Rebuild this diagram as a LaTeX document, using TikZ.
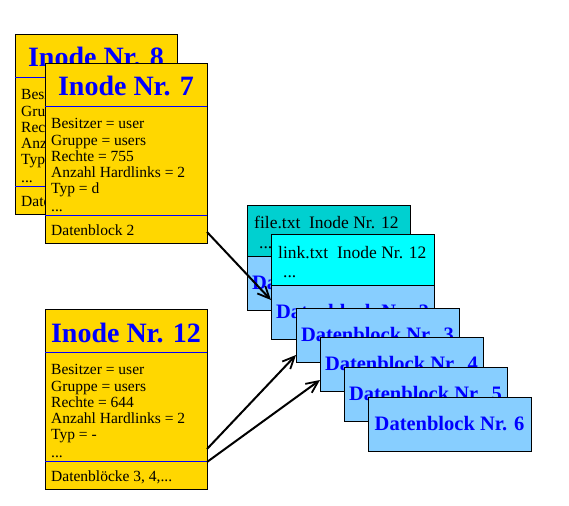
\documentclass[tikz,border=0pt]{standalone}
\usepackage{fontspec}
\setmainfont{Liberation Serif}
\usetikzlibrary{positioning,arrows.meta}
\definecolor{inodegold}{RGB}{255,215,0}
\definecolor{filecyan}{RGB}{0,208,208}
\definecolor{linkcyan}{RGB}{0,255,255}
\definecolor{blockblue}{RGB}{135,206,255}

\begin{document}
\begin{tikzpicture}[x=1pt, y=-1pt,
  inode/.style={draw, line width=.8pt, fill=inodegold, minimum width=162pt, minimum height=180pt, inner sep=0pt, outer sep=0pt, anchor=north west},
  sepline/.style={blue, line width=.8pt},
  inodetitle/.style={font=\fontsize{28}{30}\selectfont\bfseries, text=blue, anchor=base, inner sep=0pt},
  attrs/.style={font=\fontsize{15.5}{16.2}\selectfont, align=left, anchor=north west, inner sep=0pt},
  footer/.style={font=\fontsize{15.5}{16.2}\selectfont, anchor=base west, inner sep=0pt},
  headbox/.style={draw, line width=.8pt, minimum width=163pt, minimum height=51pt, inner sep=0pt, outer sep=0pt, anchor=north west},
  headtext/.style={font=\fontsize{17.5}{19}\selectfont, anchor=base west, inner sep=0pt},
  dblock/.style={draw, line width=.8pt, fill=blockblue, minimum width=163pt, minimum height=54pt, inner sep=0pt, outer sep=0pt, anchor=north west, font=\fontsize{20.5}{22}\selectfont\bfseries, text=blue},
  pointer/.style={line width=2pt, -{Straight Barb[length=12pt, width=11pt, line width=1.8pt]}}
]
\useasboundingbox (0,0) rectangle (569,505);

% Inode 8 (behind)
\node[inode] (ino8) at (15,34) {};
\node[inodetitle] (ino8t) at ([yshift=-33pt]ino8.north) {Inode Nr. 8};
\draw[sepline] ([yshift=-43pt]ino8.north west) -- ([yshift=-43pt]ino8.north east);
\node[attrs] (ino8a) at ([xshift=6pt, yshift=-55.5pt]ino8.north west) {Besitzer = user\\ Gruppe = users\\ Rechte = 644\\ Anzahl Hardlinks = 1\\ Typ = -\\[1.8pt] ...};
\draw[sepline] ([yshift=-152pt]ino8.north west) -- ([yshift=-152pt]ino8.north east);
\node[footer] (ino8f) at ([xshift=6pt, yshift=-172pt]ino8.north west) {Datenblock 1};

% Inode 7
\node[inode] (ino7) at (45,63) {};
\node[inodetitle] (ino7t) at ([yshift=-33pt]ino7.north) {Inode Nr. 7};
\draw[sepline] ([yshift=-43pt]ino7.north west) -- ([yshift=-43pt]ino7.north east);
\node[attrs] (ino7a) at ([xshift=6pt, yshift=-55.5pt]ino7.north west) {Besitzer = user\\ Gruppe = users\\ Rechte = 755\\ Anzahl Hardlinks = 2\\ Typ = d\\[1.8pt] ...};
\draw[sepline] ([yshift=-152pt]ino7.north west) -- ([yshift=-152pt]ino7.north east);
\node[footer] (ino7f) at ([xshift=6pt, yshift=-172pt]ino7.north west) {Datenblock 2};

% Inode 12
\node[inode] (ino12) at (45,309) {};
\node[inodetitle] (ino12t) at ([yshift=-33pt]ino12.north) {Inode Nr. 12};
\draw[sepline] ([yshift=-43pt]ino12.north west) -- ([yshift=-43pt]ino12.north east);
\node[attrs] (ino12a) at ([xshift=6pt, yshift=-55.5pt]ino12.north west) {Besitzer = user\\ Gruppe = users\\ Rechte = 644\\ Anzahl Hardlinks = 2\\ Typ = -\\[1.8pt] ...};
\draw[sepline] ([yshift=-152pt]ino12.north west) -- ([yshift=-152pt]ino12.north east);
\node[footer] (ino12f) at ([xshift=6pt, yshift=-172pt]ino12.north west) {Datenbl\"ocke 3, 4,...};

% Directory entry file.txt
\node[headbox, fill=filecyan] (fhead) at (247,205) {};
\node[dblock, below=0pt of fhead] (fblk) {Datenblock Nr.\ \ 2};
\node[headtext] (fname) at ([xshift=7pt, yshift=-23pt]fhead.north west) {file.txt\ \ Inode Nr. 12};
\node[headtext] (fdots) at ([xshift=12pt, yshift=-43pt]fhead.north west) {...};

% Directory entry link.txt
\node[headbox, fill=linkcyan] (lhead) at (271,234) {};
\node[dblock, below=0pt of lhead] (lblk) {Datenblock Nr.\ \ 2};
\node[headtext] (lname) at ([xshift=7pt, yshift=-24pt]lhead.north west) {link.txt\ \ Inode Nr. 12};
\node[headtext] (ldots) at ([xshift=12pt, yshift=-43pt]lhead.north west) {...};

% Data blocks
\node[dblock] (db3) at (296,308) {Datenblock Nr.\ \ 3};
\node[dblock] (db4) at (320,337) {Datenblock Nr.\ \ 4};
\node[dblock] (db5) at (344,367) {Datenblock Nr.\ \ 5};
\node[dblock] (db6) at (368,397) {Datenblock Nr. 6};

% Pointers
\draw[pointer] ([yshift=-169pt]ino7.north east) -- ([yshift=-66pt]lhead.north west);
\draw[pointer] ([yshift=-140pt]ino12.north east) -- ([yshift=-47pt]db3.north west);
\draw[pointer] ([yshift=-153pt]ino12.north east) -- ([yshift=-43pt]db4.north west);
\end{tikzpicture}
\end{document}
